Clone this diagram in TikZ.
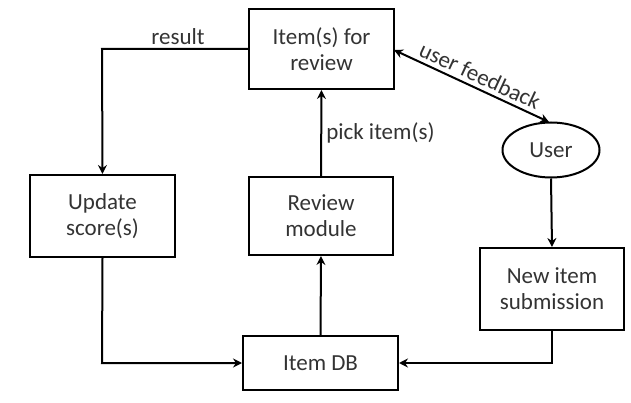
\documentclass[tikz,border=0pt]{standalone}
\usepackage{fontspec}
\setmainfont{Carlito}
\usetikzlibrary{arrows.meta,shapes.geometric}
\definecolor{txt}{HTML}{333333}
\begin{document}
\begin{tikzpicture}[x=1pt,y=-1pt,
  every node/.style={font=\fontsize{23}{26}\selectfont, text=txt},
  boxnode/.style={draw=black, line width=2pt, inner sep=0pt, align=center},
  conn/.style={draw=black, line width=2pt, -{Stealth[length=9pt,width=9pt,inset=3pt]}},
  lbl/.style={inner sep=2pt}]
\useasboundingbox (0,0) rectangle (631,403);
\node[boxnode, minimum width=145pt, minimum height=80pt] (items) at (321.5,49) {Item(s) for\\review};
\node[boxnode, minimum width=145pt, minimum height=82pt] (update) at (102.5,216) {Update\\score(s)};
\node[boxnode, minimum width=144pt, minimum height=78pt] (review) at (321,216) {Review\\module};
\node[draw=black, line width=2pt, ellipse, minimum width=97pt, minimum height=55pt, inner sep=0pt] (user) at (551,150) {User};
\node[boxnode, minimum width=144pt, minimum height=82pt] (newitem) at (552,289) {New item\\submission};
\node[boxnode, minimum width=155pt, minimum height=54pt] (db) at (320.5,363) {Item DB};
\coordinate (rc) at (102,49);
\coordinate (uc) at (102,363);
\coordinate (nc) at (552,363);
\draw[conn] (items.west |- rc) -- (rc) -- (update.north);
\node[lbl, anchor=south] at (178,47) {result};
\draw[conn] (review.north) -- node[lbl, anchor=west, pos=0.5, xshift=2pt] {pick item(s)} (items.south);
\draw[conn] (db.north) -- (review.south);
\draw[conn] (update.south) -- (uc) -- (db.west);
\draw[conn] (user.south) -- (newitem.north);
\draw[conn] (newitem.south) -- (nc) -- (db.east);
\coordinate (fa) at (394,50);
\coordinate (fb) at (549,122);
\draw[conn, {Stealth[length=9pt,width=9pt,inset=3pt]}-{Stealth[length=9pt,width=9pt,inset=3pt]}] (fa) -- node[inner sep=4pt, sloped, above, pos=0.52] {user feedback} (fb);
\end{tikzpicture}
\end{document}
